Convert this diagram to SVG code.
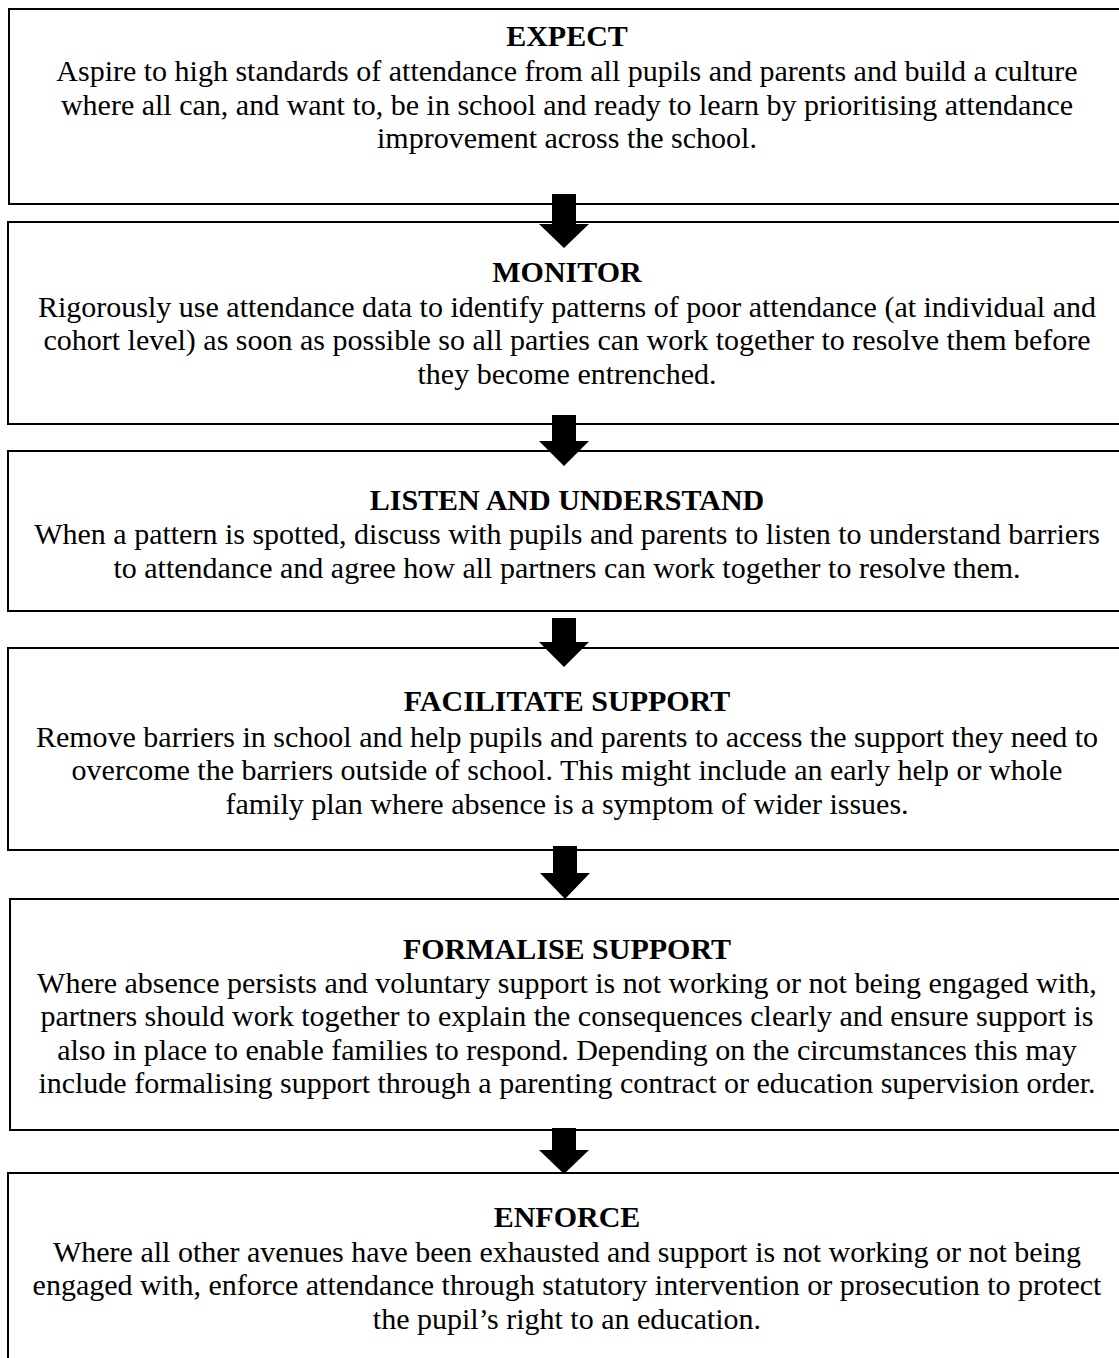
<svg xmlns="http://www.w3.org/2000/svg" width="1119" height="1358" viewBox="0 0 1119 1358">
<style>
.box{fill:#fff;stroke:#000;stroke-width:2}
.t{font-family:"Liberation Serif","Times New Roman",serif;font-size:30px;font-weight:bold;text-anchor:middle;fill:#000}
.b{font-family:"Liberation Serif","Times New Roman",serif;font-size:30px;text-anchor:middle;fill:#000}
.arr{fill:#000}
</style>
<rect x="0" y="0" width="1119" height="1358" fill="#fff"/>
<g id="expect">
<rect class="box" x="9" y="9" width="1120" height="195"/>
<text class="t" x="567" y="46">EXPECT</text>
<text class="b" x="567" y="81">Aspire to high standards of attendance from all pupils and parents and build a culture</text>
<text class="b" x="567" y="115">where all can, and want to, be in school and ready to learn by prioritising attendance</text>
<text class="b" x="567" y="148">improvement across the school.</text>
</g>
<g id="monitor">
<rect class="box" x="8" y="222" width="1120" height="202"/>
<text class="t" x="567" y="282">MONITOR</text>
<text class="b" x="567" y="317">Rigorously use attendance data to identify patterns of poor attendance (at individual and</text>
<text class="b" x="567" y="350">cohort level) as soon as possible so all parties can work together to resolve them before</text>
<text class="b" x="567" y="384">they become entrenched.</text>
</g>
<g id="listen">
<rect class="box" x="8" y="451" width="1120" height="160"/>
<text class="t" x="567" y="510">LISTEN AND UNDERSTAND</text>
<text class="b" x="567" y="544">When a pattern is spotted, discuss with pupils and parents to listen to understand barriers</text>
<text class="b" x="567" y="578">to attendance and agree how all partners can work together to resolve them.</text>
</g>
<g id="facilitate">
<rect class="box" x="8" y="648" width="1120" height="202"/>
<text class="t" x="567" y="711">FACILITATE SUPPORT</text>
<text class="b" x="567" y="747">Remove barriers in school and help pupils and parents to access the support they need to</text>
<text class="b" x="567" y="780">overcome the barriers outside of school. This might include an early help or whole</text>
<text class="b" x="567" y="814">family plan where absence is a symptom of wider issues.</text>
</g>
<g id="formalise">
<rect class="box" x="10" y="899" width="1120" height="231"/>
<text class="t" x="567" y="959">FORMALISE SUPPORT</text>
<text class="b" x="567" y="993">Where absence persists and voluntary support is not working or not being engaged with,</text>
<text class="b" x="567" y="1026">partners should work together to explain the consequences clearly and ensure support is</text>
<text class="b" x="567" y="1060">also in place to enable families to respond. Depending on the circumstances this may</text>
<text class="b" x="567" y="1093">include formalising support through a parenting contract or education supervision order.</text>
</g>
<g id="enforce">
<rect class="box" x="8" y="1173" width="1120" height="200"/>
<text class="t" x="567" y="1227">ENFORCE</text>
<text class="b" x="567" y="1262">Where all other avenues have been exhausted and support is not working or not being</text>
<text class="b" x="567" y="1295">engaged with, enforce attendance through statutory intervention or prosecution to protect</text>
<text class="b" x="567" y="1329">the pupil’s right to an education.</text>
</g>
<g id="connectors">
<polygon class="arr" points="552,194 576,194 576,224 589,224 564,248 539,224 552,224"/>
<polygon class="arr" points="552,415 576,415 576,441 589,441 564,466 539,441 552,441"/>
<polygon class="arr" points="552,618 576,618 576,642 589,642 564,667 539,642 552,642"/>
<polygon class="arr" points="553,846 577,846 577,873 590,873 565,899 540,873 553,873"/>
<polygon class="arr" points="552,1128 576,1128 576,1150 589,1150 564,1174 539,1150 552,1150"/>
</g>
</svg>
